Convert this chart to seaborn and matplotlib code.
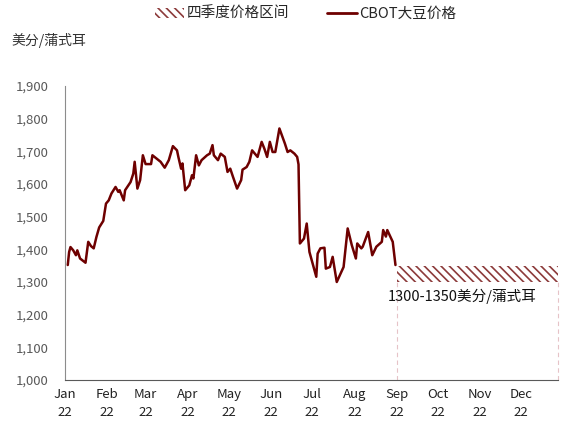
import pandas as pd
import matplotlib.pyplot as plt
import matplotlib.dates as mdates
from matplotlib.patches import Patch
from matplotlib.lines import Line2D
import seaborn as sns

# CBOT soybean price (cents/bushel)
dates = [
    "2022-01-03", "2022-01-04", "2022-01-05", "2022-01-07", "2022-01-09", "2022-01-10",
    "2022-01-12", "2022-01-16", "2022-01-18", "2022-01-20", "2022-01-22", "2022-01-24",
    "2022-01-26", "2022-01-29", "2022-01-31", "2022-02-02", "2022-02-04", "2022-02-07",
    "2022-02-09", "2022-02-10", "2022-02-13", "2022-02-14", "2022-02-18", "2022-02-20",
    "2022-02-21", "2022-02-23", "2022-02-25", "2022-02-27", "2022-03-01", "2022-03-05",
    "2022-03-06", "2022-03-09", "2022-03-12", "2022-03-15", "2022-03-18", "2022-03-21",
    "2022-03-24", "2022-03-25", "2022-03-27", "2022-03-28", "2022-03-30", "2022-04-02",
    "2022-04-04", "2022-04-05", "2022-04-07", "2022-04-09", "2022-04-11", "2022-04-15",
    "2022-04-17", "2022-04-19", "2022-04-20", "2022-04-23", "2022-04-25", "2022-04-28",
    "2022-04-30", "2022-05-02", "2022-05-04", "2022-05-07", "2022-05-10", "2022-05-11",
    "2022-05-14", "2022-05-16", "2022-05-18", "2022-05-20", "2022-05-22", "2022-05-25",
    "2022-05-27", "2022-05-29", "2022-05-31", "2022-06-02", "2022-06-04", "2022-06-07",
    "2022-06-11", "2022-06-13", "2022-06-15", "2022-06-18", "2022-06-20", "2022-06-21",
    "2022-06-22", "2022-06-23", "2022-06-25", "2022-06-27", "2022-06-29", "2022-07-04",
    "2022-07-05", "2022-07-07", "2022-07-10", "2022-07-11", "2022-07-14", "2022-07-16",
    "2022-07-19", "2022-07-24", "2022-07-27", "2022-07-30", "2022-08-02", "2022-08-03",
    "2022-08-06", "2022-08-07", "2022-08-11", "2022-08-14", "2022-08-17", "2022-08-21",
    "2022-08-22", "2022-08-24", "2022-08-25", "2022-08-29", "2022-08-31",
]
prices = [
    1352, 1392, 1407, 1397, 1382, 1397,
    1372, 1359, 1423, 1410, 1403, 1438,
    1467, 1487, 1540, 1550, 1571, 1591,
    1576, 1581, 1550, 1581, 1606, 1632,
    1668, 1586, 1612, 1688, 1661, 1661,
    1688, 1678, 1668, 1650, 1673, 1716,
    1703, 1683, 1647, 1663, 1581, 1596,
    1627, 1617, 1688, 1657, 1673, 1688,
    1693, 1719, 1688, 1673, 1693, 1683,
    1637, 1647, 1622, 1586, 1612, 1644,
    1652, 1668, 1703, 1693, 1683, 1729,
    1708, 1683, 1729, 1698, 1698, 1770,
    1724, 1698, 1703, 1693, 1683, 1660,
    1418, 1423, 1433, 1479, 1392, 1316,
    1387, 1403, 1405, 1341, 1346, 1377,
    1300, 1346, 1464, 1413, 1372, 1418,
    1403, 1408, 1453, 1382, 1408, 1423,
    1459, 1439, 1459, 1423, 1352,
]

# Q4 price range
band_start = "2022-09-01"
band_end = "2022-12-28"
band_low = 1300
band_high = 1350

line_color = "#6E0000"
hatch_color = "#8C3A3A"
hatch_pat = "\\\\\\\\"

sns.set_style("white")
plt.rcParams["font.family"] = ["Noto Sans CJK SC", "DejaVu Sans"]
plt.rcParams["hatch.linewidth"] = 1.2
plt.rcParams["axes.unicode_minus"] = False

df = pd.DataFrame({"date": pd.to_datetime(dates), "price": prices})

fig = plt.figure(figsize=(5.77, 4.29), dpi=100)
ax = fig.add_axes([0.1127, 0.1142, 0.8543, 0.6853])

sns.lineplot(data=df, x="date", y="price", ax=ax, color=line_color, linewidth=1.8)

# hatched band for Q4 range, dashed outline down to the axis
x0, x1 = pd.Timestamp(band_start), pd.Timestamp(band_end)
ax.fill_between([x0, x1], band_low, band_high, facecolor="none",
                edgecolor=hatch_color, hatch=hatch_pat, linewidth=0)
for xv in (x0, x1):
    ax.plot([xv, xv], [1000, band_low], color="#E6C3C8", linestyle=(0, (4, 3)),
            linewidth=0.8, clip_on=False)

ax.text(pd.Timestamp("2022-08-25"), 1255, f"{band_low}-{band_high}美分/蒲式耳",
        fontsize=10.5, color="#111111", va="center", ha="left")

ax.set_xlim(pd.Timestamp("2022-01-01"), pd.Timestamp(band_end))
ax.set_ylim(1000, 1900)
ax.set_yticks(range(1000, 1901, 100))
ax.set_yticklabels([f"{v:,}" for v in range(1000, 1901, 100)])
ax.xaxis.set_major_locator(mdates.MonthLocator())
ax.xaxis.set_major_formatter(mdates.DateFormatter("%b\n%y"))
ax.set_xlabel("")
ax.set_ylabel("")

for side in ("top", "right"):
    ax.spines[side].set_visible(False)
ax.spines["left"].set_color("#8C8C8C")
ax.spines["bottom"].set_color("#595959")
ax.tick_params(axis="y", direction="in", length=4, colors="#8C8C8C",
               labelcolor="#595959", labelsize=9.5, pad=12)
ax.tick_params(axis="x", direction="in", length=4, colors="#404040",
               labelcolor="#222222", labelsize=9.5, pad=6)
for lbl in ax.get_xticklabels():
    lbl.set_linespacing(1.5)

fig.text(0.02, 0.905, "美分/蒲式耳", fontsize=10, color="#333333", va="center")

handles = [
    Patch(facecolor="none", edgecolor=hatch_color, hatch=hatch_pat, linewidth=0),
    Line2D([0], [0], color=line_color, linewidth=2),
]
fig.legend(handles, ["四季度价格区间", "CBOT大豆价格"], loc="center",
           bbox_to_anchor=(0.53, 0.967), ncol=2, frameon=False, fontsize=10.5,
           handlelength=2.0, handletextpad=0.2, columnspacing=2.6)

fig.savefig("out.png", dpi=100)
